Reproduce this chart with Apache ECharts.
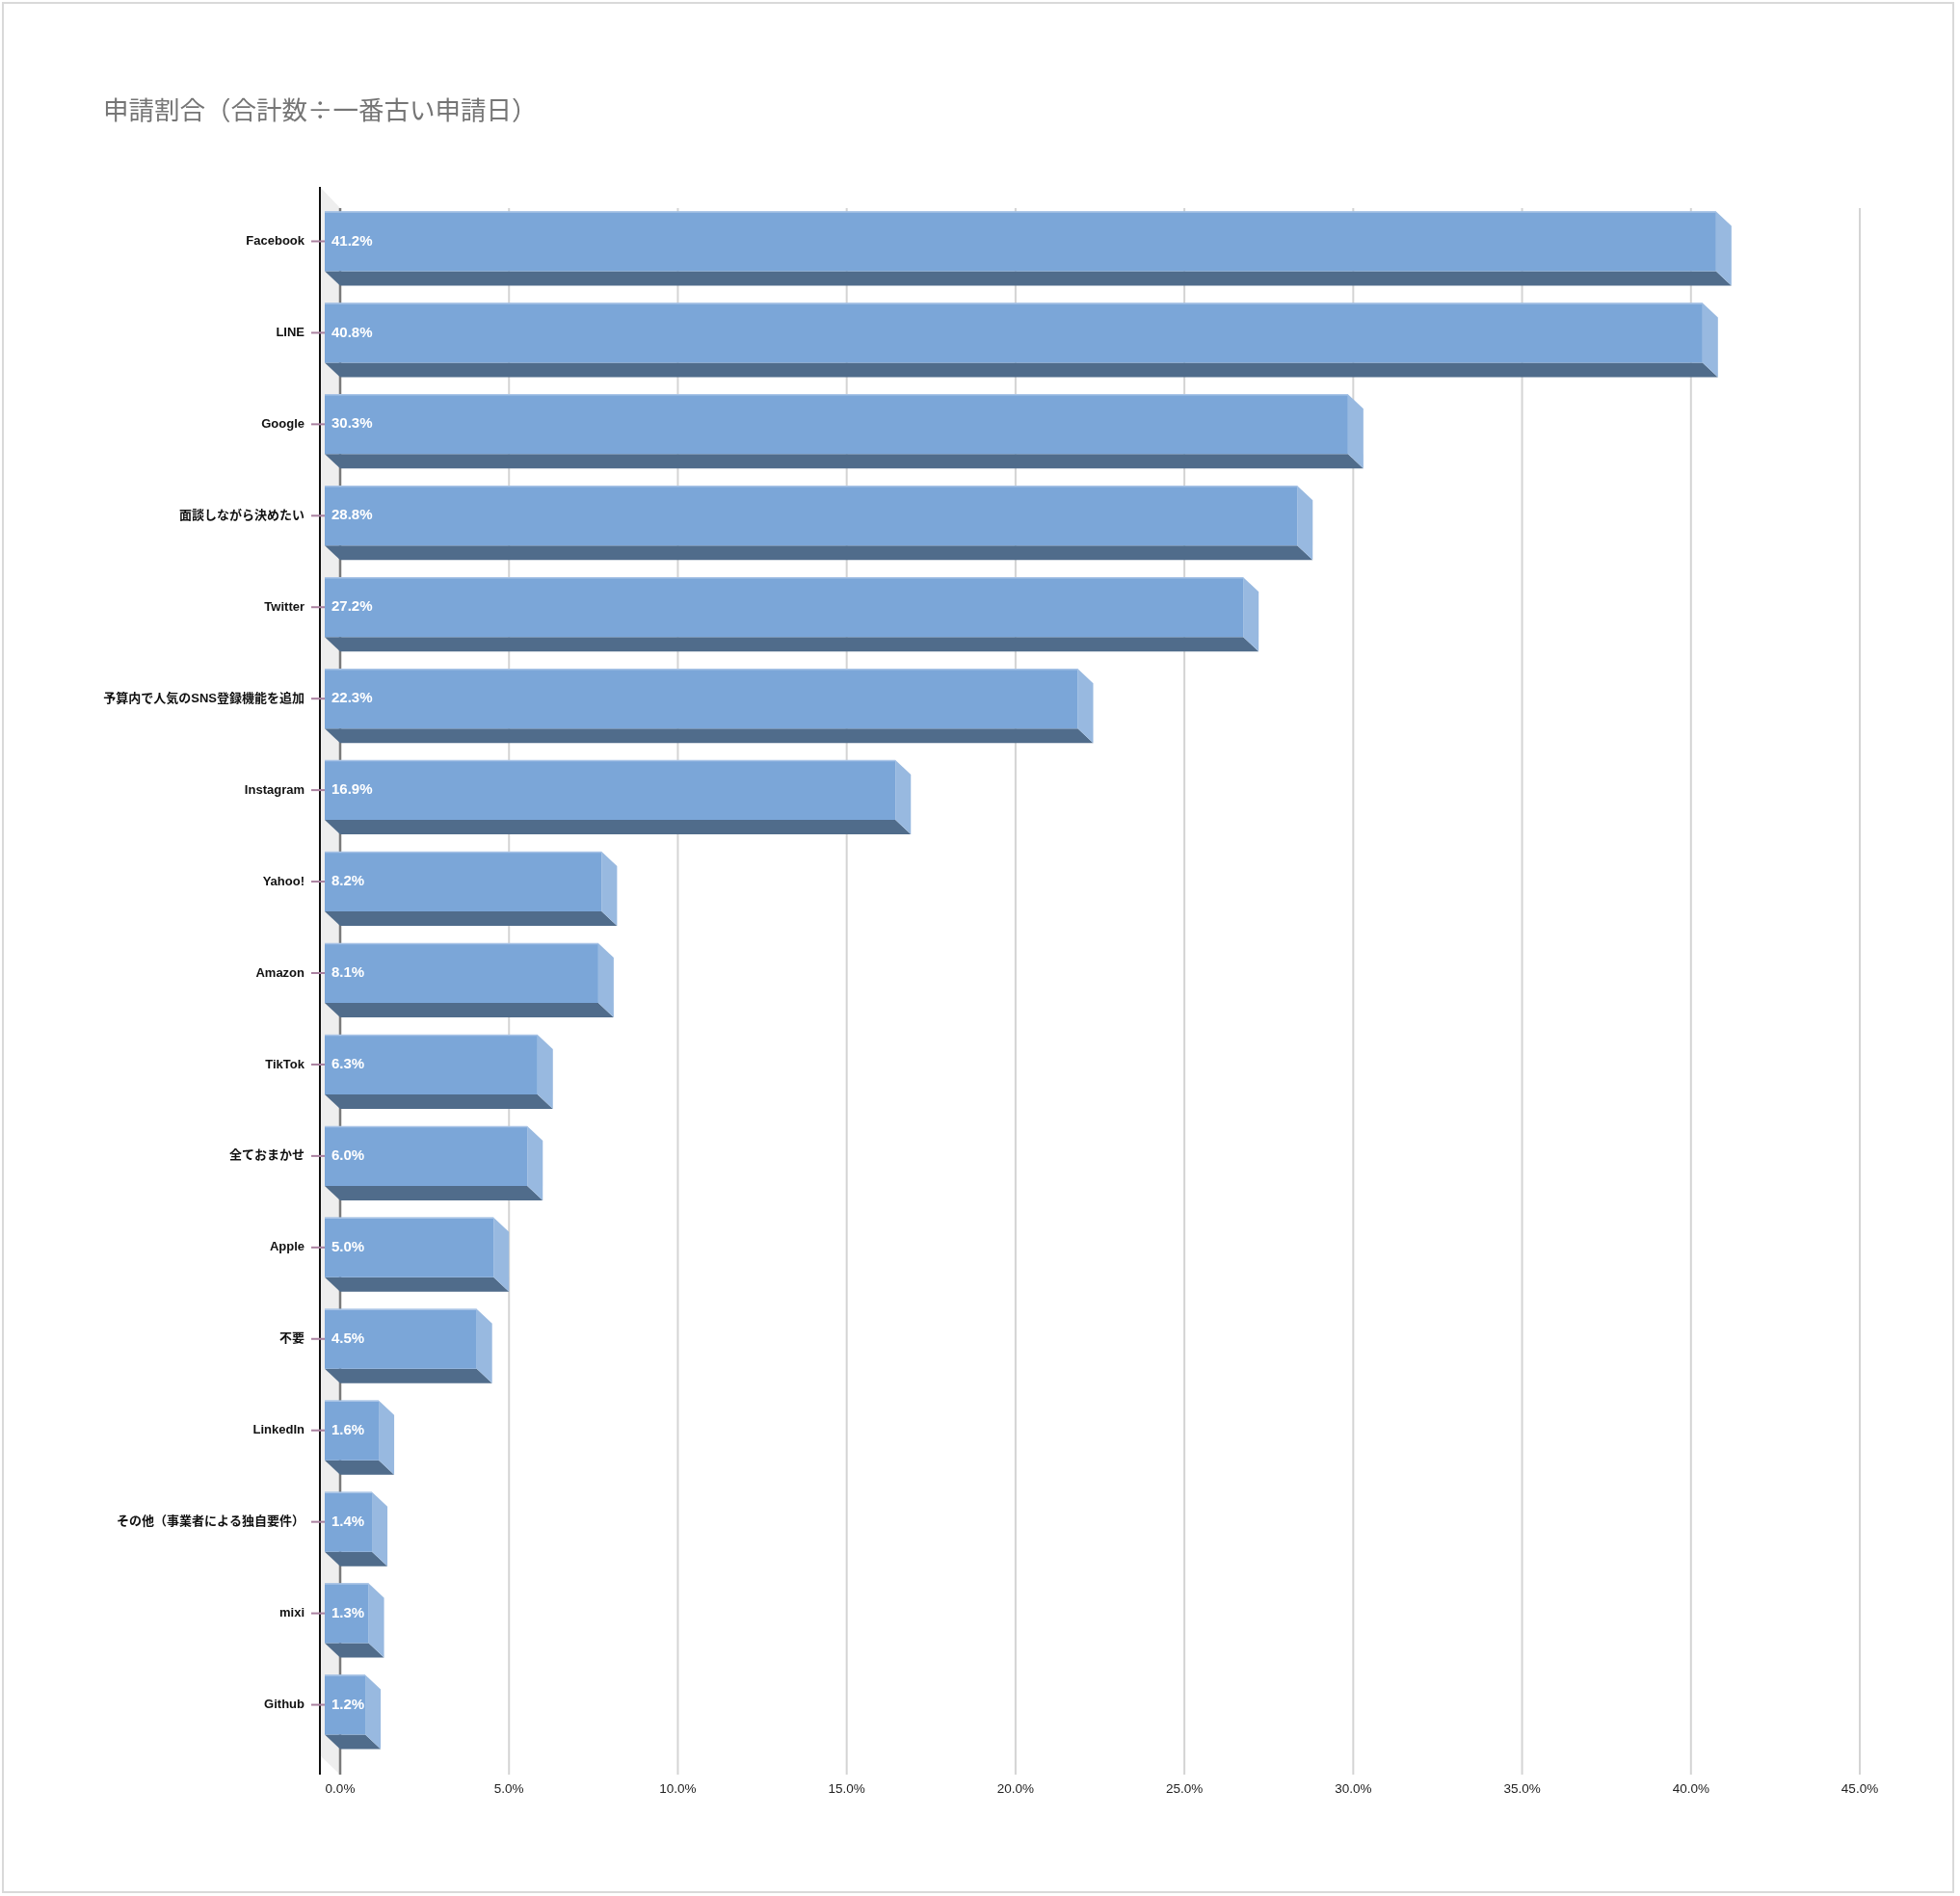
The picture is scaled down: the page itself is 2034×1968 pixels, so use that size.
<!DOCTYPE html>
<html>
<head>
<meta charset="utf-8">
<script src="https://cdn.jsdelivr.net/npm/echarts@6/dist/echarts.min.js"></script>
<style>
html,body{margin:0;padding:0;background:#fff;}
#chart{width:2034px;height:1968px;}
</style>
</head>
<body>
<div id="chart"></div>
<script>
const categories = ['Facebook','LINE','Google','面談しながら決めたい','Twitter','予算内で人気のSNS登録機能を追加','Instagram','Yahoo!','Amazon','TikTok','全ておまかせ','Apple','不要','LinkedIn','その他（事業者による独自要件）','mixi','Github'];
const values = [41.2,40.8,30.3,28.8,27.2,22.3,16.9,8.2,8.1,6.3,6.0,5.0,4.5,1.6,1.4,1.3,1.2];
const xTicks = [0,5,10,15,20,25,30,35,40,45];
const titleText = '申請割合（合計数÷一番古い申請日）';

const FONT = '"Liberation Sans", Arial, "Noto Sans CJK JP", sans-serif';
const DX = 16, DY = 15;

const chart = echarts.init(document.getElementById('chart'), null, {renderer:'canvas'});

function frameItem(params, api) {
  const cs = params.coordSys;
  const L = cs.x, T = cs.y, B = cs.y + cs.height;
  const children = [];
  children.push({type:'polygon', shape:{points:[[L-21,T-24],[L,T-2],[L,B+10],[L-21,B-10]]}, style:{fill:'#eeeeee'}});
  xTicks.forEach(function(t){
    const x = api.coord([t,0])[0];
    children.push({type:'line', shape:{x1:x,y1:T-2,x2:x,y2:B+10},
      style:{stroke: t===0 ? '#7a7a7a' : '#d4d4d4', lineWidth: t===0 ? 2.5 : 2}});
  });
  children.push({type:'line', shape:{x1:L-21,y1:T-24,x2:L-21,y2:B+10}, style:{stroke:'#111', lineWidth:2}});
  categories.forEach(function(c,i){
    const y = api.coord([0,i])[1] - DY;
    children.push({type:'line', shape:{x1:L-30,y1:y,x2:L-14,y2:y}, style:{stroke:'#a9809f', lineWidth:2}});
    children.push({type:'text', style:{x:L-37, y:y, text:c, fill:'#111',
      font:'bold 13px ' + FONT, textAlign:'right', textVerticalAlign:'middle'}});
  });
  return {type:'group', children:children};
}

function barItem(params, api) {
  const v = api.value(0);
  const idx = api.value(1);
  const p0 = api.coord([0, idx]);
  const p1 = api.coord([v, idx]);
  const band = api.size([0,1])[1];
  const h = band * 0.653 / 2;
  const L = p0[0], xv = p1[0], c = p0[1];
  return {type:'group', children:[
    {type:'polygon', shape:{points:[[L-DX,c+h-DY],[xv-DX,c+h-DY],[xv,c+h],[L,c+h]]}, style:{fill:'#506c8b'}},
    {type:'polygon', shape:{points:[[xv-DX,c-h-DY],[xv,c-h],[xv,c+h],[xv-DX,c+h-DY]]}, style:{fill:'#98b9e0'}},
    {type:'rect', shape:{x:L-DX, y:c-h-DY, width:xv-L, height:2*h}, style:{fill:'#7ba6d8'}},
    {type:'line', shape:{x1:L-DX,y1:c-h-DY+0.5,x2:xv-DX,y2:c-h-DY+0.5}, style:{stroke:'#a8c3e6', lineWidth:1.5}},
    {type:'text', style:{x:L-DX+7, y:c-DY, text:v.toFixed(1)+'%', fill:'#ffffff',
      font:'bold 15px ' + FONT, textAlign:'left', textVerticalAlign:'middle'}}
  ]};
}

const option = {
  backgroundColor:'#ffffff',
  animation:false,
  title:{text:titleText, left:102, top:96, textStyle:{fontSize:26.5, fontWeight:'normal', color:'#757575', fontFamily:'"Noto Sans CJK JP", sans-serif'}},
  graphic:[{type:'rect', shape:{x:3,y:3,width:2024,height:1961}, style:{fill:'none', stroke:'#d9d9d9', lineWidth:2}, silent:true, z:-10}],
  grid:{left:353, right:104, top:218, bottom:136, containLabel:false},
  xAxis:{type:'value', min:0, max:45, interval:5,
    axisLine:{show:false}, axisTick:{show:false}, splitLine:{show:false},
    axisLabel:{margin:19, color:'#222', fontSize:13.5, fontFamily:FONT, formatter:function(v){return v.toFixed(1)+'%';}}},
  yAxis:{type:'category', data:categories, inverse:true,
    axisLine:{show:false}, axisTick:{show:false}, splitLine:{show:false},
    axisLabel:{show:false}},
  series:[
    {type:'custom', renderItem:frameItem, data:[[0,0]], z:1, silent:true},
    {type:'custom', renderItem:barItem, data:values.map(function(v,i){return [v,i];}), encode:{x:0,y:1}, z:2}
  ]
};
chart.setOption(option);
</script>
</body>
</html>
